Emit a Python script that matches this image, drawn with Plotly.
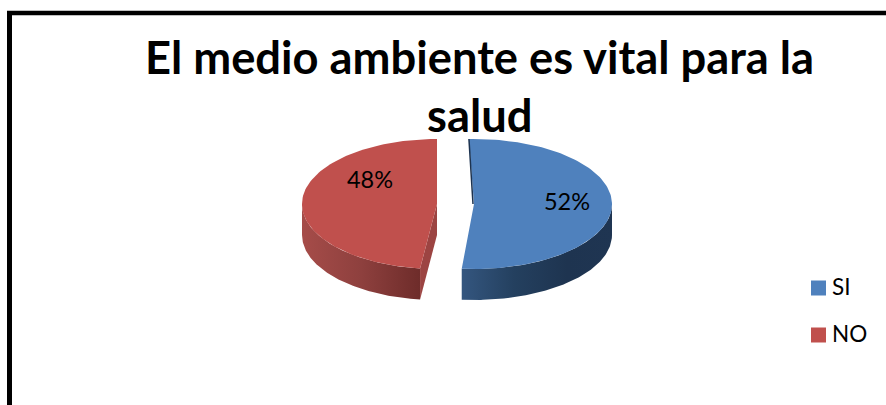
import numpy as np
import plotly.graph_objects as go

categories = ["SI", "NO"]
shares = [52, 48]
labels = ["52%", "48%"]
title_lines = ["El medio ambiente es vital para la", "salud"]

top_colors = ["#4F81BD", "#C0504D"]
wall_scales = [
    [[0, "#34567F"], [0.35, "#24405F"], [0.7, "#1E3450"], [1, "#1F3552"]],
    [[0, "#A64C49"], [0.5, "#8E403E"], [1, "#6E2C2A"]],
]
side_colors = ["#1D3350", "#9C4442"]

# pie geometry, plot coordinates are page pixels
centers = [(474, 204), (437, 204)]
rx = [138, 135]
ry = 65
depth = 31
start_angle = -2.1


def rim(i, a0, a1):
    t = np.radians(np.linspace(a0, a1, 120))
    return centers[i][0] + rx[i] * np.sin(t), centers[i][1] - ry * np.cos(t)


fig = go.Figure()

sweeps = [s * 3.6 for s in shares]
a_blue = (start_angle, start_angle + sweeps[0])
a_red = (-sweeps[1], 0)

# walls
for i, (a0, a1) in enumerate([(90, a_blue[1]), (a_red[0], -90)]):
    x, y = rim(i, a0, a1)
    fig.add_trace(go.Scatter(
        x=np.concatenate([x, x[::-1]]),
        y=np.concatenate([y, y[::-1] + depth]),
        mode="lines", line=dict(width=0), fill="toself",
        fillgradient=dict(type="horizontal", colorscale=wall_scales[i],
                          start=x.min(), stop=x.max()),
        hoverinfo="skip", showlegend=False,
    ))

# red cut face under the slice
rx_end, ry_end = rim(1, a_red[0], a_red[0])
cx, cy = centers[1]
fig.add_trace(go.Scatter(
    x=[cx, rx_end[0], rx_end[0], cx],
    y=[cy, ry_end[0], ry_end[0] + depth, cy + depth],
    mode="lines", line=dict(width=0), fill="toself", fillcolor=side_colors[1],
    hoverinfo="skip", showlegend=False,
))

# top faces
for i, (a0, a1) in enumerate([a_blue, a_red]):
    x, y = rim(i, a0, a1)
    fig.add_trace(go.Scatter(
        x=np.concatenate([[centers[i][0]], x, [centers[i][0]]]),
        y=np.concatenate([[centers[i][1]], y, [centers[i][1]]]),
        mode="lines", line=dict(width=0), fill="toself", fillcolor=top_colors[i],
        hoverinfo="skip", showlegend=False,
    ))

# dark sliver along the blue cut edge
bx, by = rim(0, a_blue[0], a_blue[0])
fig.add_trace(go.Scatter(
    x=[bx[0], centers[0][0] - 1], y=[by[0], centers[0][1]],
    mode="lines", line=dict(color=side_colors[0], width=1.5),
    hoverinfo="skip", showlegend=False,
))

# percent labels
fig.add_trace(go.Scatter(
    x=[567, 370], y=[204, 182], mode="text", text=labels,
    textfont=dict(family="Lato", size=23.5, color="#000000"),
    hoverinfo="skip", showlegend=False,
))

# legend
fig.add_trace(go.Scatter(
    x=[818.5, 818.5], y=[288, 335], mode="markers",
    marker=dict(symbol="square", size=15, color=top_colors, line=dict(width=0)),
    hoverinfo="skip", showlegend=False,
))
fig.add_trace(go.Scatter(
    x=[832, 832], y=[289.5, 336.5], mode="text",
    text=categories, textposition="middle right",
    textfont=dict(family="Lato", size=22.5, color="#000000"),
    hoverinfo="skip", showlegend=False,
))

for line, yy in zip(title_lines, [56.5, 114.5]):
    fig.add_annotation(
        x=479, y=yy, xref="x", yref="y", text=f"<b>{line}</b>", showarrow=False,
        font=dict(family="Lato", size=45.3, color="#000000"),
    )

# frame, runs off the page on the right and bottom
fig.add_shape(type="line", x0=7, x1=886, y0=13, y1=13,
              line=dict(color="#000000", width=4.5), layer="below")
fig.add_shape(type="line", x0=9.5, x1=9.5, y0=11, y1=405,
              line=dict(color="#000000", width=5), layer="below")

fig.update_layout(
    width=886, height=405,
    margin=dict(l=0, r=0, t=0, b=0),
    paper_bgcolor="#FFFFFF", plot_bgcolor="#FFFFFF",
    xaxis=dict(range=[0, 886], visible=False, fixedrange=True),
    yaxis=dict(range=[405, 0], visible=False, fixedrange=True),
    showlegend=False,
)

# page body has a default margin that would shift the whole figure
fig.write_html("out.html", config=dict(displayModeBar=False),
               post_script="document.body.style.margin='0';")
